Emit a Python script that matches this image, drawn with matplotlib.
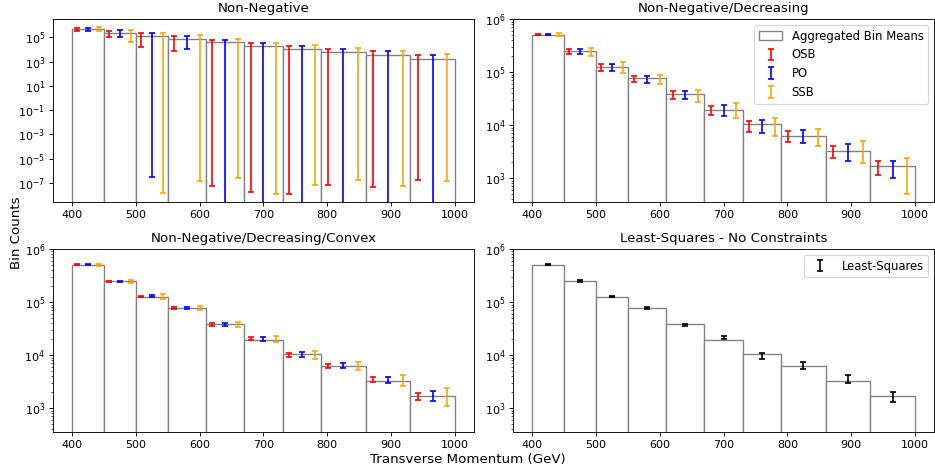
import numpy as np
import matplotlib
matplotlib.use("Agg")
from matplotlib import pyplot as plt

# bin edges (GeV) and aggregated bin means
edges = [400, 450, 500, 550, 610, 670, 730, 790, 860, 930, 1000]
bin_means = [5.1e5, 2.45e5, 1.26e5, 7.6e4, 3.8e4, 1.95e4, 1.03e4, 6.3e3, 3.25e3, 1.7e3]

# interval bounds (low, high) per method, read per panel
# Non-Negative
nn_osb_lo = [3.3e5, 1.13e5, 1.6e4, 8.0e3, 5.6e-8, 1.9e-8, 1.3e-8, 6.9e-8, 5.0e-8, 1.9e-7]
nn_osb_hi = [5.5e5, 3.5e5, 2.1e5, 1.2e5, 6.4e4, 3.4e4, 2.07e4, 1.17e4, 7.1e3, 3.5e3]
nn_po_lo = [3.5e5, 1.13e5, 3.0e-7, 1.0e4, -1e3, -1e3, -1e3, -1e3, -1e3, -1e3]
nn_po_hi = [5.5e5, 4.0e5, 2.1e5, 1.2e5, 6.4e4, 3.6e4, 2.07e4, 1.17e4, 7.1e3, 3.5e3]
nn_ssb_lo = [3.3e5, 4.4e4, 1.6e-8, 1.4e-7, 2.4e-7, 1.3e-8, 7.2e-8, 1.7e-7, 5.6e-8, 1.5e-7]
nn_ssb_hi = [6.6e5, 4.0e5, 2.1e5, 1.46e5, 6.8e4, 3.6e4, 2.2e4, 1.4e4, 8.0e3, 4.0e3]

# Non-Negative/Decreasing
nd_osb_lo = [4.92e5, 2.22e5, 1.04e5, 6.6e4, 3.1e4, 1.57e4, 7.3e3, 4.9e3, 2.4e3, 1.17e3]
nd_osb_hi = [5.28e5, 2.68e5, 1.40e5, 8.3e4, 4.4e4, 2.32e4, 1.19e4, 7.7e3, 4.1e3, 2.1e3]
nd_po_lo = [4.92e5, 2.22e5, 1.03e5, 6.3e4, 3.05e4, 1.52e4, 7.0e3, 4.6e3, 2.1e3, 1.03e3]
nd_po_hi = [5.28e5, 2.70e5, 1.43e5, 8.4e4, 4.45e4, 2.38e4, 1.24e4, 8.1e3, 4.4e3, 2.1e3]
nd_ssb_lo = [4.8e5, 2.03e5, 9.6e4, 5.85e4, 2.75e4, 1.37e4, 6.2e3, 4.0e3, 1.95e3, 514]
nd_ssb_hi = [5.5e5, 2.8e5, 1.52e5, 8.8e4, 4.6e4, 2.6e4, 1.36e4, 8.5e3, 5.0e3, 2.4e3]

# Non-Negative/Decreasing/Convex
ndc_osb_lo = [4.90e5, 2.38e5, 1.224e5, 7.28e4, 3.58e4, 1.90e4, 9.34e3, 5.80e3, 3.11e3, 1.43e3]
ndc_osb_hi = [5.12e5, 2.49e5, 1.316e5, 7.93e4, 3.96e4, 2.16e4, 1.11e4, 6.90e3, 3.81e3, 1.96e3]
ndc_po_lo = [4.90e5, 2.38e5, 1.224e5, 7.28e4, 3.53e4, 1.87e4, 9.08e3, 5.63e3, 2.94e3, 1.37e3]
ndc_po_hi = [5.12e5, 2.52e5, 1.335e5, 8.05e4, 4.08e4, 2.19e4, 1.144e4, 7.10e3, 3.87e3, 2.14e3]
ndc_ssb_lo = [4.83e5, 2.31e5, 1.155e5, 6.97e4, 3.33e4, 1.77e4, 8.57e3, 5.24e3, 2.62e3, 1.10e3]
ndc_ssb_hi = [5.27e5, 2.60e5, 1.39e5, 8.41e4, 4.26e4, 2.29e4, 1.21e4, 7.52e3, 4.16e3, 2.44e3]

# Least-Squares, no constraints
ls_lo = [4.90e5, 2.41e5, 1.224e5, 7.49e4, 3.48e4, 1.98e4, 8.44e3, 5.55e3, 2.94e3, 1.31e3]
ls_hi = [5.12e5, 2.56e5, 1.30e5, 8.05e4, 3.85e4, 2.29e4, 1.095e4, 7.31e3, 4.22e3, 2.02e3]

colors = {'OSB': 'red', 'PO': 'blue', 'SSB': 'orange'}


def draw_bins(ax, label=None):
    widths = np.diff(edges)
    ax.bar(edges[:-1], bin_means, width=widths, align='edge', color='white',
           edgecolor='gray', linewidth=1.2, label=label)


def draw_interval(ax, x, lo, hi, color, label):
    lo = np.array(lo)
    hi = np.array(hi)
    mid = (lo + hi) / 2
    err = (hi - lo) / 2
    ax.errorbar(x, mid, yerr=err, fmt='none', ecolor=color, elinewidth=1.5,
                capsize=3, capthick=1.5, label=label)


def method_panel(ax, title, intervals, legend=False):
    e = np.array(edges, dtype=float)
    centers = (e[:-1] + e[1:]) / 2
    w = np.diff(e)
    draw_bins(ax, label='Aggregated Bin Means')
    xs = [centers - w / 3, centers, centers + w / 3]
    for x, (name, lo, hi) in zip(xs, intervals):
        draw_interval(ax, x, lo, hi, colors[name], name)
    ax.set_yscale('log')
    ax.set_title(title, fontsize=12)
    if legend:
        ax.legend(loc='upper right', fontsize=10.5, labelspacing=0.5)


fig, axes = plt.subplots(2, 2, figsize=(935 / 80, 466 / 80), dpi=80)
fig.subplots_adjust(left=0.0567, right=0.999, bottom=0.073, top=0.959,
                    wspace=0.093, hspace=0.257)

method_panel(axes[0, 0], 'Non-Negative',
             [('OSB', nn_osb_lo, nn_osb_hi), ('PO', nn_po_lo, nn_po_hi), ('SSB', nn_ssb_lo, nn_ssb_hi)])
method_panel(axes[0, 1], 'Non-Negative/Decreasing',
             [('OSB', nd_osb_lo, nd_osb_hi), ('PO', nd_po_lo, nd_po_hi), ('SSB', nd_ssb_lo, nd_ssb_hi)],
             legend=True)
method_panel(axes[1, 0], 'Non-Negative/Decreasing/Convex',
             [('OSB', ndc_osb_lo, ndc_osb_hi), ('PO', ndc_po_lo, ndc_po_hi), ('SSB', ndc_ssb_lo, ndc_ssb_hi)])

ax = axes[1, 1]
e = np.array(edges, dtype=float)
draw_bins(ax)
draw_interval(ax, (e[:-1] + e[1:]) / 2, ls_lo, ls_hi, 'black', 'Least-Squares')
ax.set_yscale('log')
ax.set_title('Least-Squares - No Constraints', fontsize=12)
ax.legend(loc='upper right', fontsize=10.5)

for a in [axes[0, 1], axes[1, 0], axes[1, 1]]:
    a.set_ylim(355, 1e6)

fig.supxlabel('Transverse Momentum (GeV)', fontsize=12, y=0.0)
fig.supylabel('Bin Counts', fontsize=12, x=0.011)

plt.savefig('out.png', dpi=80)
